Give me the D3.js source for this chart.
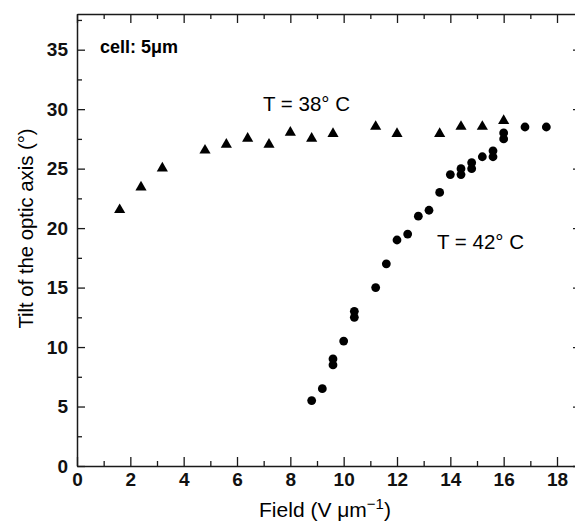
<!DOCTYPE html>
<html>
<head>
<meta charset="utf-8">
<script src="https://cdn.jsdelivr.net/npm/d3@7"></script>
<style>
  html, body { margin: 0; padding: 0; background: #fff; }
  svg { display: block; font-family: "Liberation Sans", Arial, sans-serif; }
</style>
</head>
<body>
<svg id="chart" width="575" height="522"></svg>
<script>
// Data
const t38Field = [1.6, 2.4, 3.2, 4.8, 5.6, 6.4, 7.2, 8.0, 8.8, 9.6, 11.2, 12.0, 13.6, 14.4, 15.2, 16.0];
const t38Tilt  = [21.6, 23.5, 25.1, 26.6, 27.1, 27.6, 27.1, 28.1, 27.6, 28.0, 28.6, 28.0, 28.0, 28.6, 28.6, 29.1];

const t42Field = [8.8, 9.2, 9.6, 9.6, 10.0, 10.4, 10.4, 11.2, 11.6, 12.0, 12.4, 12.8, 13.2, 13.6, 14.0, 14.4, 14.4, 14.8, 14.8, 15.2, 15.6, 15.6, 16.0, 16.0, 16.8, 17.6];
const t42Tilt  = [5.5, 6.5, 8.5, 9.0, 10.5, 12.5, 13.0, 15.0, 17.0, 19.0, 19.5, 21.0, 21.5, 23.0, 24.5, 24.5, 25.0, 25.0, 25.5, 26.0, 26.0, 26.5, 27.5, 28.0, 28.5, 28.5];

const xMajorTicks = [0, 2, 4, 6, 8, 10, 12, 14, 16, 18];
const xMinorTicks = [1, 3, 5, 7, 9, 11, 13, 15, 17];
const yMajorTicks = [0, 5, 10, 15, 20, 25, 30, 35];
const yMinorTicks = [2.5, 7.5, 12.5, 17.5, 22.5, 27.5, 32.5, 37.5];

const labels = {
  cell: "cell: 5\u03BCm",
  t38: "T = 38\u00B0 C",
  t42: "T = 42\u00B0 C",
  yTitle: "Tilt of the optic axis (\u00B0)"
};

const svg = d3.select("#chart");
const L = 77, R = 581, T = 14, B = 466;

const x = d3.scaleLinear().domain([0, 18.9]).range([L, R]);
const y = d3.scaleLinear().domain([0, 38]).range([B, T]);

const axisColor = "#1a1a1a";

function styleAxis(g) {
  g.select(".domain").attr("stroke", axisColor).attr("stroke-width", 1.5);
  g.selectAll(".tick line").attr("stroke", axisColor).attr("stroke-width", 1.3);
  g.selectAll(".tick text").attr("fill", "#111").attr("font-size", 19).attr("font-weight", "bold");
}

// Bottom axis
const gb = svg.append("g").attr("transform", `translate(0,${B})`)
  .call(d3.axisBottom(x).tickValues(xMajorTicks).tickSizeInner(-9).tickSizeOuter(0).tickPadding(7).tickFormat(d3.format("d")));
styleAxis(gb);
const gbm = svg.append("g").attr("transform", `translate(0,${B})`)
  .call(d3.axisBottom(x).tickValues(xMinorTicks).tickSize(-5).tickFormat(""));
styleAxis(gbm); gbm.select(".domain").remove();

// Top axis
const gt = svg.append("g").attr("transform", `translate(0,${T})`)
  .call(d3.axisTop(x).tickValues(xMajorTicks).tickSizeInner(-9).tickSizeOuter(0).tickFormat(""));
styleAxis(gt);
const gtm = svg.append("g").attr("transform", `translate(0,${T})`)
  .call(d3.axisTop(x).tickValues(xMinorTicks).tickSize(-5).tickFormat(""));
styleAxis(gtm); gtm.select(".domain").remove();

// Left axis
const gl = svg.append("g").attr("transform", `translate(${L},0)`)
  .call(d3.axisLeft(y).tickValues(yMajorTicks).tickSizeInner(-8).tickSizeOuter(0).tickPadding(9).tickFormat(d3.format("d")));
styleAxis(gl);
const glm = svg.append("g").attr("transform", `translate(${L},0)`)
  .call(d3.axisLeft(y).tickValues(yMinorTicks).tickSize(-5).tickFormat(""));
styleAxis(glm); glm.select(".domain").remove();

// Right axis
const gr = svg.append("g").attr("transform", `translate(${R},0)`)
  .call(d3.axisRight(y).tickValues(yMajorTicks).tickSizeInner(-8).tickSizeOuter(0).tickFormat(""));
styleAxis(gr);
const grm = svg.append("g").attr("transform", `translate(${R},0)`)
  .call(d3.axisRight(y).tickValues(yMinorTicks).tickSize(-5).tickFormat(""));
styleAxis(grm); grm.select(".domain").remove();

// Triangles (38 C)
const tri = d3.symbol().type(d3.symbolTriangle).size(54);
svg.append("g").selectAll("path")
  .data(t38Field.map((f, i) => [f, t38Tilt[i]]))
  .join("path")
  .attr("d", tri)
  .attr("transform", d => `translate(${x(d[0])},${y(d[1]) + 0.8})`)
  .attr("fill", "#000");

// Circles (42 C)
svg.append("g").selectAll("circle")
  .data(t42Field.map((f, i) => [f, t42Tilt[i]]))
  .join("circle")
  .attr("cx", d => x(d[0]))
  .attr("cy", d => y(d[1]))
  .attr("r", 4.4)
  .attr("fill", "#000");

// Annotations
svg.append("text").attr("x", 100).attr("y", 53)
  .attr("font-size", 18).attr("font-weight", "bold").attr("fill", "#000")
  .text(labels.cell);
svg.append("text").attr("x", 263).attr("y", 111)
  .attr("font-size", 20.5).attr("fill", "#000").text(labels.t38);
svg.append("text").attr("x", 437).attr("y", 249)
  .attr("font-size", 20.5).attr("fill", "#000").text(labels.t42);

// Axis titles
const xt = svg.append("text").attr("x", 325).attr("y", 517)
  .attr("text-anchor", "middle").attr("font-size", 21).attr("fill", "#000");
xt.append("tspan").text("Field (V \u03BCm");
xt.append("tspan").attr("font-size", 15).attr("dy", -8).text("\u22121");
xt.append("tspan").attr("dy", 8).text(")");

svg.append("text")
  .attr("transform", "translate(33,228.5) rotate(-90)")
  .attr("text-anchor", "middle").attr("font-size", 20.3).attr("fill", "#000")
  .text(labels.yTitle);
</script>
</body>
</html>
